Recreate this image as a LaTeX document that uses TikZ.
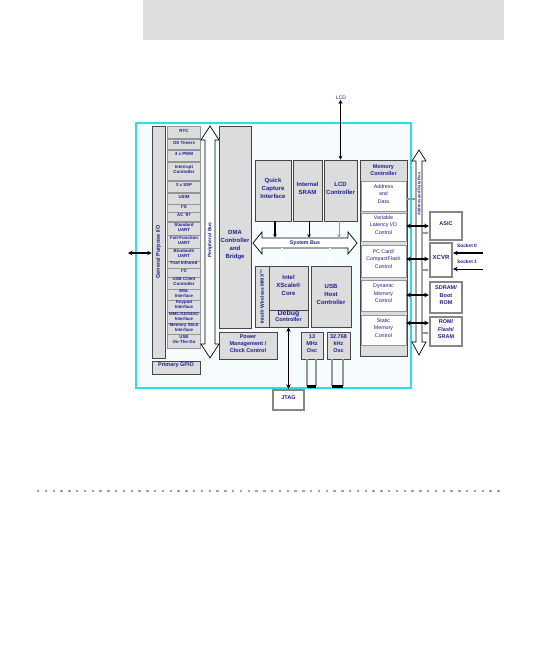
\documentclass[tikz,border=0pt]{standalone}
\usepackage{fontspec}
\setmainfont{Liberation Sans}
\usetikzlibrary{fit,arrows.meta}
\definecolor{navy}{RGB}{30,30,150}
\definecolor{boxg}{RGB}{220,220,220}
\definecolor{edgeg}{RGB}{70,70,70}
\definecolor{sepg}{RGB}{150,150,150}
\definecolor{cyanb}{RGB}{40,222,236}
\definecolor{extg}{RGB}{135,135,135}
\definecolor{innerc}{RGB}{246,252,253}
\definecolor{topg}{RGB}{220,221,220}
\definecolor{dotg}{RGB}{160,160,160}
\begin{document}
\begin{tikzpicture}[x=1pt,y=-1pt,
  gbox/.style={draw=edgeg, fill=boxg, line width=0.6pt, inner sep=0pt, align=center, text=navy, font=\fontsize{6}{8}\selectfont\bfseries},
  item/.style={fill=boxg, inner sep=0pt, align=center, text=navy, font=\fontsize{4.4}{5}\selectfont\bfseries},
  wbox/.style={fill=white, draw=sepg, line width=0.4pt, inner sep=0pt, align=center, text=navy, font=\fontsize{5.3}{7.5}\selectfont},
  ext/.style={draw=extg, line width=2.4pt, fill=white, inner sep=0pt, align=center, text=navy, font=\fontsize{5.5}{7.5}\selectfont\bfseries},
  lab/.style={text=navy, inner sep=0pt, align=center, font=\fontsize{5}{6}\selectfont\bfseries},
  link/.style={line width=1.3pt, {Stealth[length=4.5pt,width=4.5pt]}-{Stealth[length=4.5pt,width=4.5pt]}},
  glink/.style={draw=sepg, line width=1.2pt, -{Stealth[length=3pt,width=3pt]}},
  dline/.style={double=white, double distance=1.6pt, line width=0.6pt},
  busarrow/.style={draw=black, fill=white, line width=0.7pt}
]
\useasboundingbox (0,0) rectangle (557,647);

% top grey band
\fill[topg] (143,0) rectangle (504,40);

% cyan frame
\draw[cyanb, line width=2.5pt, fill=innerc] (136,123) rectangle (411,388);

% GPIO column
\node[gbox, fit={(152,126) (165,358)}] (gpio) {};
\node[lab, rotate=90, font=\fontsize{5.5}{6}\selectfont\bfseries] at (158.5,252) {General Purpose I/O};
\node[gbox, fit={(152,361) (200,374)}, font=\fontsize{5.5}{6}\selectfont\bfseries] (pgpio) {Primary GPIO};

% peripheral list
\fill[sepg] (167,126) rectangle (201,349);
\foreach \n/\t/\b/\txt in {
  1/127/138/{RTC}, 2/140/149/{OS Timers}, 3/151/161/{4 x PWM},
  4/163/180/{Interrupt\\Controller}, 5/182/192/{3 x SSP}, 6/194/204/{USIM},
  7/205/212/{I²S}, 8/213/221/{AC '97}, 9/223/235/{Standard\\UART},
  10/236/248/{Full-Function\\UART}, 11/249/261/{Bluetooth\\UART},
  12/262/268/{Fast Infrared}, 13/269/277/{I²C}, 14/278/289/{USB Client\\Controller},
  15/290/300/{MSL\\Interface}, 16/301/312/{Keypad\\Interface},
  17/313/323/{MMC/SD/SDIO\\Interface}, 18/324/334/{Memory Stick\\Interface},
  19/335/348/{USB\\On-The-Go}}
  \node[item, fit={(168,\t) (200,\b)}] (p\n) {\txt};

% peripheral bus
\draw[busarrow] (210,126) -- (219,140) -- (215,140) -- (215,344) -- (219,344) -- (210,358)
  -- (201,344) -- (205,344) -- (205,140) -- (201,140) -- cycle;
\node[lab, rotate=90, font=\fontsize{5}{6}\selectfont\bfseries] at (210,240) {Peripheral Bus};

% DMA
\node[gbox, fit={(219,126) (251,328)}] (dma) {};
\node[lab, font=\fontsize{6}{8}\selectfont\bfseries] at (235,245) {DMA\\Controller\\and\\Bridge};
\node[gbox, fit={(219,332) (277,359)}, font=\fontsize{5.5}{7}\selectfont\bfseries] (pm) {Power\\Management /\\Clock Control};

% top row
\node[gbox, fit={(255,160) (291,221)}] (qc) {Quick\\Capture\\Interface};
\node[gbox, fit={(293,160) (322,221)}] (sram) {Internal\\SRAM};
\node[gbox, fit={(324,160) (357,221)}] (lcd) {LCD\\Controller};

% system bus
\draw[busarrow] (253,243) -- (262,232) -- (262,238) -- (348,238) -- (348,232) -- (357,243)
  -- (348,254) -- (348,248) -- (262,248) -- (262,254) -- cycle;
\node[lab, font=\fontsize{5.3}{6}\selectfont\bfseries] at (305,243) {System Bus};

% core row
\node[gbox, fit={(255,266) (269,327)}] (mmx) {};
\node[lab, rotate=90, font=\fontsize{5}{6}\selectfont\bfseries] at (262,296.5) {Intel® Wireless MMX™};
\node[gbox, fit={(269,266) (308,310)}] (xs) {Intel\\XScale®\\Core};
\node[gbox, fit={(269,310) (308,327)}, font=\fontsize{5.5}{6.5}\selectfont\bfseries] (dbg) {{\fontsize{7}{7}\selectfont Debug}\\Controller};
\node[gbox, fit={(311,266) (351,327)}] (usbh) {USB\\Host\\Controller};

% oscillators
\node[gbox, fit={(301,332) (323,359)}, font=\fontsize{5.5}{7.3}\selectfont\bfseries] (osc1) {13\\MHz\\Osc};
\node[gbox, fit={(327,332) (350,359)}, font=\fontsize{5.5}{7.3}\selectfont\bfseries] (osc2) {32.768\\kHz\\Osc};
\foreach \xa/\xb/\o in {307/316/osc1, 332/343/osc2} {
  \draw[sepg, line width=1.3pt] (\o.south -| \xa,0) -- (\xa,386);
  \draw[sepg, line width=1.3pt] (\o.south -| \xb,0) -- (\xb,386);
  \draw[black, line width=2.6pt] (\xa,386.5) -- (\xb,386.5);
}

% JTAG & LCD
\node[ext, fit={(273,390) (304,410)}] (jtag) {JTAG};
\draw[link] (dbg.south) -- (jtag.north);
\node[lab, font=\fontsize{5}{6}\selectfont] (lcdlab) at (341,98) {LCD};
\draw[line width=1pt, {Stealth[length=4pt,width=4pt]}-{Stealth[length=4pt,width=4pt]}] (lcdlab.south -| lcd.north) -- (lcd.north);

% connectors to system bus
\draw[line width=1.3pt, -{Stealth[length=3pt,width=4pt]}] ([xshift=2pt]qc.south) -- ++(0,16);
\draw[line width=1pt, -{Stealth[length=3pt,width=4pt]}] ([xshift=1.5pt]sram.south) -- ++(0,16);
\draw[sepg, line width=1pt, -{Stealth[length=3pt,width=4pt]}] ([xshift=-1.5pt]lcd.south) -- ++(0,16);
\draw[dline] ([xshift=-6.5pt]xs.north) -- ++(0,-18);
\draw[dline] ([xshift=-1pt]usbh.north) -- ++(0,-18);

% memory controller column
\node[gbox, fit={(360,160) (407,356)}] (mem) {};
\node[lab, font=\fontsize{5.5}{7}\selectfont\bfseries] (memt) at (383.5,170.5) {Memory\\Controller};
\node[wbox, fit={(361,181) (406,211)}] (ad) {Address\\and\\Data};
\node[wbox, fit={(361,213) (406,241)}] (vl) {Variable\\Latency I/O\\Control};
\node[wbox, fit={(361,245) (406,277)}] (pc) {PC Card/\\CompactFlash\\Control};
\node[wbox, fit={(361,280) (406,311)}] (dm) {Dynamic\\Memory\\Control};
\node[wbox, fit={(361,315) (406,345)}] (sm) {Static\\Memory\\Control};

% address and data bus
\draw[busarrow] (419,150) -- (426,161) -- (422,161) -- (422,342) -- (426,342) -- (419,355)
  -- (412,342) -- (416,342) -- (416,161) -- (412,161) -- cycle;
\node[lab, rotate=90, font=\fontsize{4}{5}\selectfont\bfseries] at (419,194) {Address and Data Bus};

% external devices
\node[ext, fit={(430,212) (462,240)}] (asic) {ASIC};
\node[ext, fit={(430,243) (452,277)}, font=\fontsize{6}{7}\selectfont\bfseries] (xcvr) {XCVR};
\node[ext, fit={(430,282) (462,313)}] (sdram) {SDRAM/\\Boot\\ROM};
\node[ext, fit={(430,317) (462,346)}] (rom) {ROM/\\Flash/\\SRAM};

% memory links
\draw[glink] (ad.east |- 0,199) -- (416,199);
\draw[link] (vl.east |- 0,226) -- (asic.west |- 0,226);
\draw[link] (pc.east |- 0,259) -- (xcvr.west |- 0,259);
\draw[link] (dm.east |- 0,295) -- (sdram.west |- 0,295);
\draw[link] (sm.east |- 0,323) -- (rom.west |- 0,323);
\draw[glink] (422,233) -- (asic.west |- 0,233);
\draw[glink] (422,270) -- (xcvr.west |- 0,270);
\draw[glink] (422,333) -- (rom.west |- 0,333);

% sockets
\coordinate (s0) at (483,253);
\coordinate (s1) at (483,269);
\node[lab, font=\fontsize{4.8}{6}\selectfont\bfseries] at (467,246) {Socket 0};
\node[lab, font=\fontsize{4.8}{6}\selectfont\bfseries] at (467,262) {Socket 1};
\draw[line width=1.3pt, -{Stealth[length=4.5pt,width=4.5pt]}] (s0) -- (s0 -| xcvr.east);
\draw[line width=0.6pt, -{Stealth[length=4.5pt,width=4.5pt]}] (s1) -- (s1 -| xcvr.east);

% GPIO external link
\coordinate (gp) at (128,253);
\draw[link] (gp) -- (gp -| gpio.west);

% dotted separator
\draw[dotg, line width=2.4pt, dash pattern=on 2.4pt off 5.4pt] (37,491) -- (504,491);
\end{tikzpicture}
\end{document}
